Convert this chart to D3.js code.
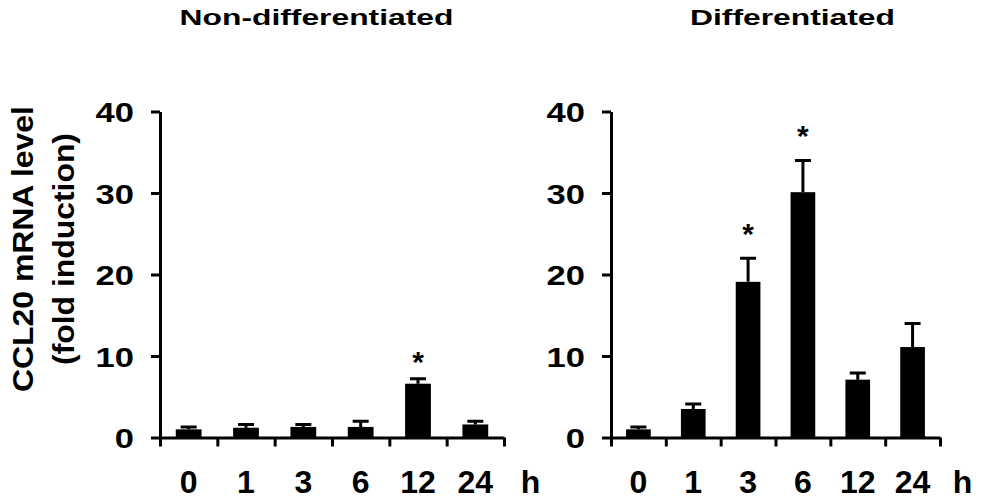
<!DOCTYPE html>
<html>
<head>
<meta charset="utf-8">
<script src="https://cdn.jsdelivr.net/npm/d3@7"></script>
<style>
  body { margin: 0; background: #fff; }
  svg { display: block; font-family: "Liberation Sans", Arial, sans-serif; font-weight: bold; }
</style>
</head>
<body>
<svg width="988" height="500"></svg>
<script>
const hours = ["0", "1", "3", "6", "12", "24"];
const yTicks = [0, 10, 20, 30, 40];
const titles = ["Non-differentiated", "Differentiated"];
const yLabel = ["CCL20 mRNA level", "(fold induction)"];

const nonDiffMean = [1.0, 1.2, 1.3, 1.3, 6.6, 1.6];
const nonDiffErr  = [0.3, 0.4, 0.3, 0.7, 0.6, 0.4];
const nonDiffSig  = [false, false, false, false, true, false];

const diffMean = [1.0, 3.5, 19.1, 30.1, 7.1, 11.1];
const diffErr  = [0.3, 0.6, 2.9, 3.9, 0.8, 2.9];
const diffSig  = [false, false, true, true, false, false];

const svg = d3.select("svg");

const y = d3.scaleLinear().domain([0, 40]).range([437.5, 111.5]);

const panels = [
    {title: titles[0], mean: nonDiffMean, err: nonDiffErr, sig: nonDiffSig,
     x0: 160, x1: 504, titleX: 316.5, hGap: 26.5, starGap: 22.5},
    {title: titles[1], mean: diffMean, err: diffErr, sig: diffSig,
     x0: 611, x1: 940, titleX: 792.5, hGap: 22.5, starGap: 30}
];

panels.forEach(p => {
    const g = svg.append("g");

    const x = d3.scaleBand()
        .domain(hours)
        .range([p.x0, p.x1])
        .paddingInner(0.55)
        .paddingOuter(0.275);

    // tick marks sit on the band edges, labels at band centres
    const edges = d3.scaleLinear().domain([0, hours.length]).range([p.x0, p.x1]);

    const rows = hours.map((h, i) => ({h, v: p.mean[i], e: p.err[i], sig: p.sig[i]}));
    const cx = d => x(d.h) + x.bandwidth() / 2;

    // error bars (upper only)
    g.selectAll("path.err")
        .data(rows)
        .join("path")
        .attr("class", "err")
        .attr("d", d => `M${cx(d)},${y(d.v)}V${y(d.v + d.e)}M${cx(d) - 8},${y(d.v + d.e)}H${cx(d) + 8}`)
        .attr("fill", "none")
        .attr("stroke", "#000")
        .attr("stroke-width", 3);

    g.selectAll("rect")
        .data(rows)
        .join("rect")
        .attr("x", d => x(d.h))
        .attr("y", d => y(d.v))
        .attr("width", x.bandwidth())
        .attr("height", d => y(0) - y(d.v))
        .attr("fill", "#000");

    // significance stars
    g.selectAll("text.star")
        .data(rows.filter(d => d.sig))
        .join("text")
        .attr("class", "star")
        .attr("x", cx)
        .attr("y", d => y(d.v + d.e) - p.starGap + 16)
        .attr("text-anchor", "middle")
        .attr("font-size", 30)
        .text("*");

    // y axis
    const ya = g.append("g")
        .attr("transform", `translate(${p.x0},0)`)
        .call(d3.axisLeft(y).tickValues(yTicks).tickSize(9).tickSizeOuter(0));
    ya.selectAll("text")
        .attr("x", null)
        .attr("dy", null)
        .attr("transform", "translate(-26,10) scale(1.28,1)")
        .attr("font-size", 27);

    // x axis line + edge ticks
    g.append("g")
        .attr("transform", `translate(0,${y(0)})`)
        .call(d3.axisBottom(edges).tickValues(d3.range(hours.length + 1)).tickSize(9).tickSizeOuter(0).tickFormat(""));

    // x labels
    g.append("g")
        .attr("transform", `translate(0,${y(0)})`)
        .call(d3.axisBottom(x).tickSize(0).tickPadding(0))
        .call(a => a.select(".domain").remove())
        .selectAll("text")
        .attr("dy", null)
        .attr("y", 55.5)
        .attr("font-size", 32);

    g.selectAll(".domain, .tick line")
        .attr("stroke", "#000")
        .attr("stroke-width", 3);
    g.selectAll(".tick text").attr("fill", "#000").attr("font-family", null);

    g.append("text")
        .attr("transform", `translate(${p.x1 + p.hGap},492.5)`)
        .attr("text-anchor", "middle")
        .attr("font-size", 32)
        .text("h");

    g.append("text")
        .attr("transform", `translate(${p.titleX},24.5) scale(1.48,1)`)
        .attr("text-anchor", "middle")
        .attr("font-size", 21.5)
        .text(p.title);
});

svg.selectAll("text.ylab")
    .data(yLabel)
    .join("text")
    .attr("class", "ylab")
    .attr("transform", (d, i) => `translate(${32.5 + i * 41.5},249) rotate(-90) scale(1.1,1)`)
    .attr("text-anchor", "middle")
    .attr("font-size", 29)
    .text(d => d);
</script>
</body>
</html>
